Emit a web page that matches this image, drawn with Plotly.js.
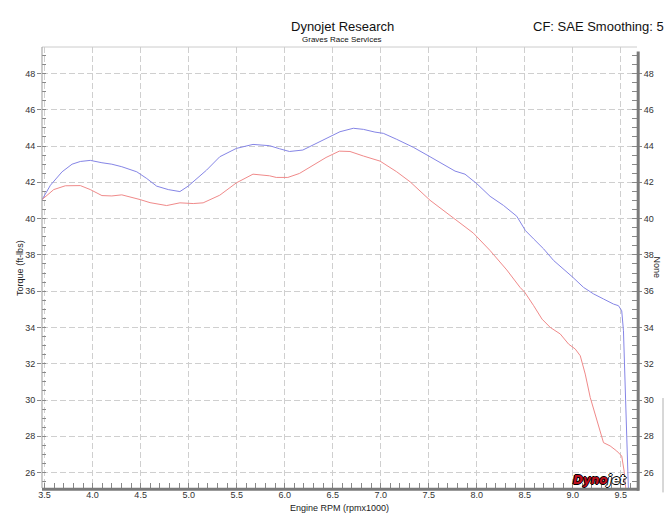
<!DOCTYPE html>
<html>
<head>
<meta charset="utf-8">
<script src="https://cdn.plot.ly/plotly-3.0.1.min.js"></script>
<style>html,body{margin:0;padding:0;background:#fff;}#chart{width:671px;height:517px;}</style>
</head>
<body>
<div id="chart"></div>
<script>
// Run 1 (blue)
const rpmBlue = [3.474,3.561,3.682,3.786,3.872,3.976,4.097,4.2,4.304,4.46,4.564,4.667,4.788,4.909,4.995,5.082,5.186,5.324,5.497,5.67,5.843,5.947,6.05,6.189,6.293,6.431,6.576,6.715,6.82,6.94,7.028,7.167,7.34,7.514,7.653,7.774,7.878,8.0,8.139,8.278,8.417,8.507,8.593,8.697,8.801,8.905,9.0,9.112,9.216,9.32,9.424,9.476,9.51,9.528,9.545,9.562,9.58];
const torqueBlue = [41.05,41.84,42.58,43.0,43.15,43.21,43.08,43.0,42.86,42.58,42.21,41.79,41.6,41.49,41.79,42.21,42.67,43.41,43.87,44.09,44.02,43.85,43.7,43.78,44.06,44.42,44.79,44.98,44.92,44.77,44.7,44.37,43.93,43.41,43.0,42.62,42.45,41.93,41.23,40.73,40.13,39.34,38.88,38.33,37.69,37.23,36.77,36.21,35.85,35.57,35.29,35.2,34.92,33.82,31.06,28.29,24.98];
// Run 2 (red)
const rpmRed = [3.474,3.595,3.716,3.872,3.976,4.097,4.2,4.304,4.494,4.598,4.771,4.909,5.048,5.151,5.324,5.497,5.67,5.843,5.912,6.033,6.154,6.293,6.431,6.569,6.68,6.82,6.993,7.167,7.306,7.514,7.722,7.965,8.139,8.313,8.451,8.5,8.593,8.68,8.766,8.87,8.957,9.026,9.078,9.13,9.182,9.251,9.32,9.389,9.458,9.51,9.535,9.555];
const torqueRed = [41.05,41.6,41.81,41.82,41.6,41.27,41.25,41.31,41.05,40.88,40.72,40.87,40.83,40.87,41.29,41.97,42.45,42.36,42.27,42.27,42.49,42.95,43.37,43.72,43.7,43.45,43.17,42.58,42.03,41.01,40.18,39.2,38.24,37.17,36.21,35.94,35.2,34.46,34.0,33.64,33.08,32.81,32.44,31.43,30.14,28.85,27.65,27.47,27.19,26.91,26.08,24.98];

const titleText = "Dynojet Research";
const subtitleText = "Graves Race Services";
const cfText = "CF: SAE Smoothing: 5";
const xTitle = "Engine RPM (rpmx1000)";
const yTitle = "Torque (ft-lbs)";
const y2Title = "None";
const logoA = "Dyno";
const logoB = "jet";

const FONT = "Liberation Sans, Arial, sans-serif";
const xr = [3.473, 9.669];
const yr = [25.15, 49.46];

const traces = [
  {x: rpmBlue, y: torqueBlue, type: 'scatter', mode: 'lines', line: {color: '#8585e6', width: 1}, hoverinfo: 'skip'},
  {x: rpmRed, y: torqueRed, type: 'scatter', mode: 'lines', line: {color: '#f08a8a', width: 1}, hoverinfo: 'skip'},
  {x: [], y: [], yaxis: 'y2', type: 'scatter', showlegend: false}
];

const gridCol = '#cfcfcf';
const outline = '1px 0 0 #000, -1px 0 0 #000, 0 1px 0 #000, 0 -1px 0 #000';
const layout = {
  width: 671, height: 517,
  margin: {l: 42, r: 34, t: 47, b: 29, pad: 0},
  paper_bgcolor: '#fff', plot_bgcolor: '#fff',
  showlegend: false,
  font: {family: FONT, size: 9, color: '#333'},
  xaxis: {
    range: xr, tick0: 3.5, dtick: 0.5, tickformat: '.1f',
    showgrid: true, gridcolor: gridCol, griddash: '6px,3px', gridwidth: 1,
    zeroline: false, showline: false,
    ticks: 'inside', ticklen: 5, tickcolor: '#888',
    minor: {tick0: 3.5, dtick: 0.1, ticks: 'inside', ticklen: 5, tickcolor: '#888', showgrid: false},
    tickfont: {family: FONT, size: 9, color: '#333'},
    title: {text: xTitle, font: {family: FONT, size: 9, color: '#222'}, standoff: 5},
    fixedrange: true
  },
  yaxis: {
    range: yr, tick0: 26, dtick: 2,
    showgrid: true, gridcolor: gridCol, griddash: '6px,3px', gridwidth: 1,
    zeroline: false, showline: false,
    ticks: 'outside', ticklen: 4, tickcolor: '#888',
    minor: {tick0: 26, dtick: 0.5, ticks: 'inside', ticklen: 4, tickcolor: '#888', showgrid: false},
    tickfont: {family: FONT, size: 9, color: '#333'},
    title: {text: ''},
    fixedrange: true
  },
  yaxis2: {
    range: yr, tick0: 26, dtick: 2, overlaying: 'y', side: 'right',
    showgrid: false, zeroline: false, showline: false,
    ticks: 'outside', ticklen: 4, tickcolor: '#888',
    minor: {tick0: 26, dtick: 0.5, ticks: 'inside', ticklen: 5, tickcolor: '#888'},
    tickfont: {family: FONT, size: 9, color: '#333'},
    title: {text: ''},
    fixedrange: true
  },
  shapes: [
    {type: 'line', xref: 'paper', yref: 'paper', x0: 0, x1: 1, y0: 1, y1: 1, line: {color: '#cccccc', width: 1}},
    {type: 'line', xref: 'paper', yref: 'paper', x0: 0, x1: 0, y0: 0, y1: 1, line: {color: '#999999', width: 1}},
    {type: 'line', xref: 'paper', yref: 'paper', x0: 0, x1: 1.003, y0: -0.003, y1: -0.003, line: {color: '#7a7a7a', width: 3}},
    {type: 'line', xref: 'paper', yref: 'paper', x0: 1.002, x1: 1.002, y0: -0.006, y1: 0.99, line: {color: '#7a7a7a', width: 3}},
    {type: 'line', xref: 'paper', yref: 'paper', x0: 1.0437, x1: 1.0437, y0: -0.01, y1: 0.204, line: {color: '#b0b0b0', width: 1}}
  ],
  annotations: [
    {text: titleText, xref: 'paper', yref: 'paper', x: 0.505, y: 1, yshift: 21, xanchor: 'center', yanchor: 'middle', showarrow: false, font: {family: FONT, size: 13, color: '#111'}},
    {text: subtitleText, xref: 'paper', yref: 'paper', x: 0.505, y: 1, yshift: 8, xanchor: 'center', yanchor: 'middle', showarrow: false, font: {family: FONT, size: 8, color: '#111'}},
    {text: cfText, xref: 'paper', yref: 'paper', x: 1.048, y: 1, yshift: 21, xanchor: 'right', yanchor: 'middle', showarrow: false, font: {family: FONT, size: 13, color: '#111'}},
    {text: yTitle, xref: 'paper', yref: 'paper', x: -0.038, y: 0.5, xanchor: 'center', yanchor: 'middle', textangle: -90, showarrow: false, font: {family: FONT, size: 9, color: '#222'}},
    {text: y2Title, xref: 'paper', yref: 'paper', x: 1.0337, y: 0.5, xanchor: 'center', yanchor: 'middle', textangle: 90, showarrow: false, font: {family: FONT, size: 9, color: '#222'}},
    {text: '<b><i><span style="color:#c0101e">' + logoA + '</span><span style="color:#ffffff">' + logoB + '</span></i></b>',
     xref: 'x', yref: 'y', x: 9.28, y: 25.6, xanchor: 'center', yanchor: 'middle', showarrow: false, borderpad: 0,
     font: {family: 'DejaVu Sans, sans-serif', size: 12, color: '#c0101e', shadow: outline}}
  ]
};

Plotly.newPlot('chart', traces, layout, {staticPlot: true, displayModeBar: false});
</script>
</body>
</html>
